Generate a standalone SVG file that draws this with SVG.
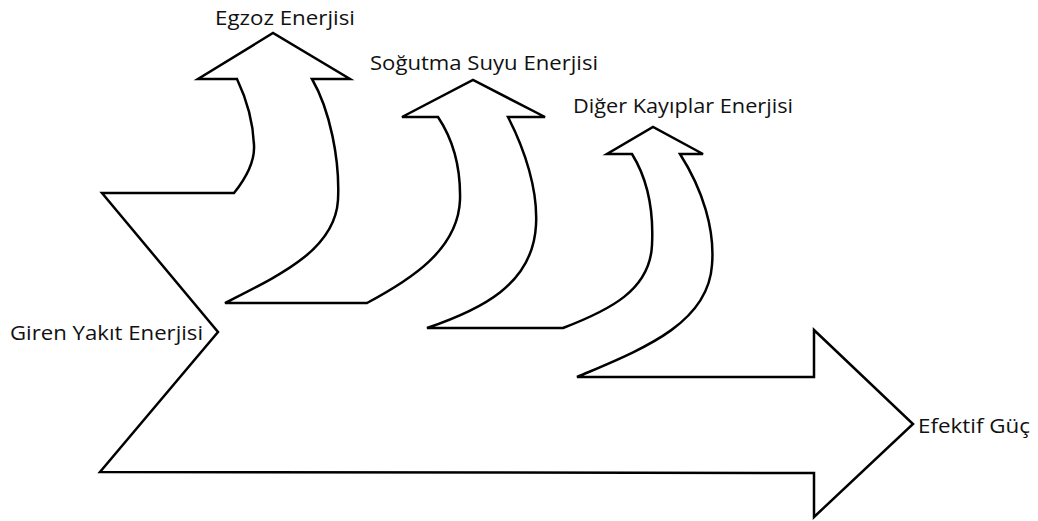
<svg xmlns="http://www.w3.org/2000/svg" width="1038" height="521" viewBox="0 0 1038 521">
  <style>
    .flow { fill: #ffffff; stroke: #000000; stroke-width: 2.5; stroke-linejoin: miter; }
    .label { font-family: "Open Sans", "Noto Sans", "DejaVu Sans", sans-serif; font-size: 20px; fill: #111111; }
  </style>
  <rect width="1038" height="521" fill="#ffffff"/>

  <!-- Energy balance outline: fuel input splits into three loss arrows and effective power -->
  <g id="connectors">
    <path id="energy-flow" class="flow" d="
      M102,193 L234,193
      C246,178 255,162 254,145 C253,118 246,98 237,79
      L198,79 L273,33 L350,79 L312,79
      C330,110 340,160 338,200 C335,250 280,275 225,303
      L367,303
      C410,280 458,250 460,200 C461,160 450,135 438,117
      L402,117 L473,80 L545,117 L508,117
      C525,150 538,190 536,225 C533,285 480,310 427,328
      L563,328
      C610,310 650,290 652,245 C654,205 645,175 632,154
      L607,154 L653,127 L703,154 L680,154
      C703,190 715,230 712,265 C708,325 640,350 577,377
      L814,377 L814,330 L913,424 L814,517 L814,473 L100,472
      L218,332 Z"/>
  </g>

  <g id="input">
    <text class="label" x="10" y="340" textLength="193" lengthAdjust="spacingAndGlyphs">Giren Yakıt Enerjisi</text>
  </g>
  <g id="exhaust">
    <text class="label" x="215" y="25" textLength="140" lengthAdjust="spacingAndGlyphs">Egzoz Enerjisi</text>
  </g>
  <g id="coolant">
    <text class="label" x="370" y="70" textLength="228" lengthAdjust="spacingAndGlyphs">Soğutma Suyu Enerjisi</text>
  </g>
  <g id="other-losses">
    <text class="label" x="573" y="113" textLength="220" lengthAdjust="spacingAndGlyphs">Diğer Kayıplar Enerjisi</text>
  </g>
  <g id="effective-power">
    <text class="label" x="918" y="433" textLength="112" lengthAdjust="spacingAndGlyphs">Efektif Güç</text>
  </g>
</svg>
